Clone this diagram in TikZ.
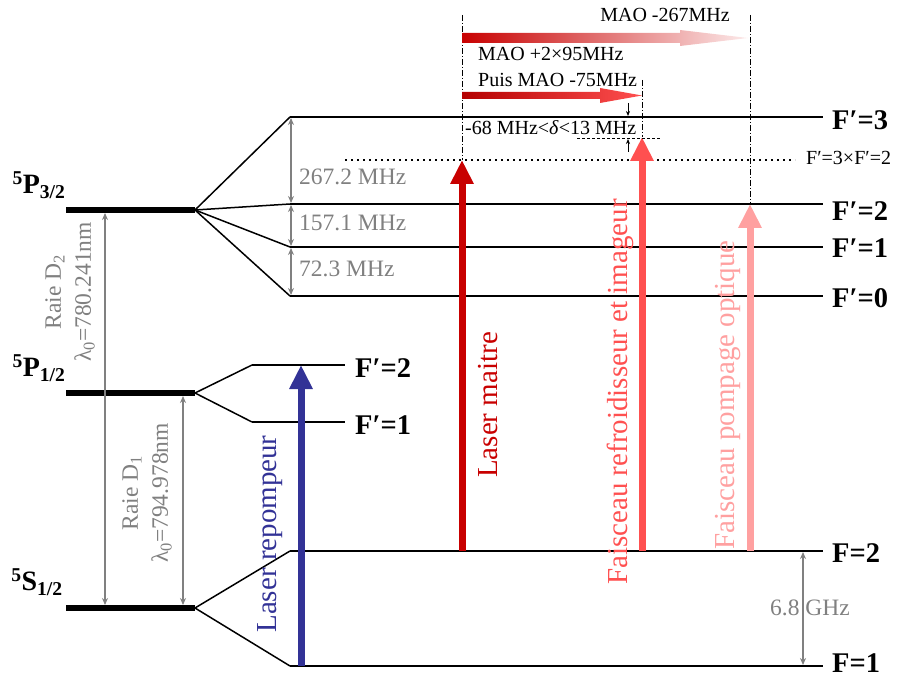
\documentclass[tikz,border=0pt]{standalone}
\usepackage{fontspec}
\setmainfont{Liberation Serif}
\usetikzlibrary{arrows.meta}
\definecolor{gr}{RGB}{128,128,128}
\definecolor{blu}{RGB}{50,50,150}
\definecolor{mred}{RGB}{200,0,0}
\definecolor{cred}{RGB}{255,80,80}
\definecolor{pred}{RGB}{255,160,160}
\definecolor{lpink}{RGB}{252,234,234}
\tikzset{
  lvl/.style={line width=2pt},
  biglvl/.style={line width=6pt},
  fan/.style={line width=1.5pt},
  garrow/.style={draw=gr, line width=1.2pt, {Stealth[length=7pt,width=6pt]}-{Stealth[length=7pt,width=6pt]}},
  glabel/.style={text=gr, font=\fontsize{23.5}{30}\selectfont, inner sep=0pt},
  flabel/.style={font=\bfseries\fontsize{28.5}{30}\selectfont, anchor=west, inner sep=0pt},
  slabel/.style={font=\fontsize{20}{22}\selectfont, inner sep=0pt},
  beam/.style={line width=7pt, -{Triangle[length=24pt,width=22pt]}},
  beamlabel/.style={font=\fontsize{29}{30}\selectfont, rotate=90, inner sep=0pt},
  dashdot/.style={line width=0.6pt, dash pattern=on 6pt off 2pt on 1pt off 2pt},
  smallarrow/.style={line width=0.8pt, -{Stealth[length=5pt,width=4pt]}},
  finelabel/.style={font=\bfseries\fontsize{28}{30}\selectfont, inner sep=0pt}
}
\begin{document}
\begin{tikzpicture}[x=1pt,y=-1pt]
\useasboundingbox (0,0) rectangle (905,679);
% fine structure levels
\coordinate (p32l) at (66,210); \coordinate (p32r) at (195,210);
\coordinate (p12l) at (66,393); \coordinate (p12r) at (195,393);
\coordinate (s12l) at (66,608); \coordinate (s12r) at (195,608);
\draw[biglvl] (p32l) -- (p32r);
\draw[biglvl] (p12l) -- (p12r);
\draw[biglvl] (s12l) -- (s12r);
\node[finelabel] (lp32) at (39,185) {\textsuperscript{5}P\textsubscript{3/2}};
\node[finelabel] (lp12) at (39,368) {\textsuperscript{5}P\textsubscript{1/2}};
\node[finelabel] (ls12) at (37,582) {\textsuperscript{5}S\textsubscript{1/2}};
% hyperfine P3/2
\coordinate (f3l) at (290,117); \coordinate (f3r) at (823,117);
\coordinate (f2l) at (290,204); \coordinate (f2r) at (823,204);
\coordinate (f1l) at (290,247); \coordinate (f1r) at (823,247);
\coordinate (f0l) at (290,296); \coordinate (f0r) at (823,296);
\foreach \n in {f3,f2,f1,f0} {\draw[lvl] (\n l) -- (\n r); \draw[fan] (p32r) -- (\n l);}
\node[flabel] (lf3) at (832,120) {F′=3};
\node[flabel] (lf2) at (832,211) {F′=2};
\node[flabel] (lf1) at (832,248) {F′=1};
\node[flabel] (lf0) at (832,298) {F′=0};
% hyperfine P1/2
\coordinate (g2l) at (252,365); \coordinate (g2r) at (345,365);
\coordinate (g1l) at (252,422); \coordinate (g1r) at (345,422);
\foreach \n in {g2,g1} {\draw[lvl] (\n l) -- (\n r); \draw[fan] (p12r) -- (\n l);}
\node[flabel] (lg2) at (355,368) {F′=2};
\node[flabel] (lg1) at (355,425) {F′=1};
% hyperfine S1/2
\coordinate (h2l) at (290,551); \coordinate (h2r) at (823,551);
\coordinate (h1l) at (290,666); \coordinate (h1r) at (823,666);
\foreach \n in {h2,h1} {\draw[lvl] (\n l) -- (\n r); \draw[fan] (s12r) -- (\n l);}
\node[flabel] (lh2) at (832,553) {F=2};
\node[flabel] (lh1) at (832,663) {F=1};
% gray splittings
\coordinate (a3) at (291,118); \coordinate (a2) at (291,203);
\coordinate (a2b) at (291,205); \coordinate (a1) at (291,246);
\coordinate (a1b) at (291,248); \coordinate (a0) at (291,295);
\draw[garrow] (a3) -- (a2);
\draw[garrow] (a2b) -- (a1);
\draw[garrow] (a1b) -- (a0);
\node[glabel, anchor=west] (t267) at (299,177) {267.2 MHz};
\node[glabel, anchor=west] (t157) at (299,223) {157.1 MHz};
\node[glabel, anchor=west] (t72) at (299,269) {72.3 MHz};
\coordinate (hz2) at (803,552); \coordinate (hz1) at (803,665);
\draw[garrow] (hz2) -- (hz1);
\node[glabel, anchor=west] (t68) at (770,608) {6.8 GHz};
% D lines
\coordinate (d2t) at (105,213); \coordinate (d2b) at (105,605);
\draw[garrow] (d2t) -- (d2b);
\node[glabel, rotate=90, align=center] (td2) at (70,292) {Raie D\textsubscript{2}\\λ\textsubscript{0}=780.241nm};
\coordinate (d1t) at (183,396); \coordinate (d1b) at (183,605);
\draw[garrow] (d1t) -- (d1b);
\node[glabel, rotate=90, align=center] (td1) at (147,493) {Raie D\textsubscript{1}\\λ\textsubscript{0}=794.978nm};
% dotted crossover line
\coordinate (cx1) at (345,160); \coordinate (cx2) at (795,160);
\draw[line width=1.6pt, dash pattern=on 1.6pt off 4.4pt] (cx1) -- (cx2);
\node[slabel, anchor=west] (tcx) at (806,158) {F′=3×F′=2};
% dash-dot guides
\coordinate (v1t) at (462,15); \coordinate (v1b) at (462,160);
\coordinate (v2t) at (642,80); \coordinate (v2b) at (642,137);
\coordinate (v3t) at (750,15); \coordinate (v3b) at (750,204);
\draw[dashdot] (v1t) -- (v1b);
\draw[dashdot] (v2t) -- (v2b);
\draw[dashdot] (v3t) -- (v3b);
% beams
\coordinate (rb) at (301,666); \coordinate (rt) at (301,365);
\draw[beam, blu] (rb) -- (rt);
\node[beamlabel, text=blu] (trep) at (270,534) {Laser repompeur};
\coordinate (mb) at (462,551); \coordinate (mt) at (462,160);
\draw[beam, mred] (mb) -- (mt);
\node[beamlabel, text=mred] (tmai) at (488,405) {Laser maitre};
\coordinate (cb) at (642,551); \coordinate (ct) at (642,137);
\draw[beam, cred] (cb) -- (ct);
\node[beamlabel, text=cred] (tcool) at (620,392) {Faisceau refroidisseur et imageur};
\coordinate (pb) at (750,551); \coordinate (pt) at (750,204);
\draw[beam, pred] (pb) -- (pt);
\node[beamlabel, text=pred] (tpump) at (728,395) {Faisceau pompage optique};
% detuning marks
\coordinate (dl1) at (577,138); \coordinate (dl2) at (660,138);
\draw[line width=0.6pt, dash pattern=on 3pt off 2pt] (dl1) -- (dl2);
\coordinate (s1a) at (628,103); \coordinate (s1b) at (628,116);
\coordinate (s2a) at (628,152); \coordinate (s2b) at (628,139);
\draw[smallarrow] (s1a) -- (s1b);
\draw[smallarrow] (s2a) -- (s2b);
\node[slabel, anchor=west] (tdelta) at (465,128) {-68 MHz<\textit{δ}<13 MHz};
% AOM arrows
\shade[left color=mred, right color=lpink] (462,33) -- (680,33) -- (680,30) -- (748,38) -- (680,46) -- (680,43) -- (462,43) -- cycle;
\shade[left color=mred!90!black, right color=cred] (462,92) -- (600,92) -- (600,88) -- (642,95.5) -- (600,103) -- (600,99) -- (462,99) -- cycle;
\node[slabel] (tmao1) at (665,15) {MAO -267MHz};
\node[slabel, anchor=west] (tmao2) at (478,54) {MAO +2×95MHz};
\node[slabel, anchor=west] (tmao3) at (478,80) {Puis MAO -75MHz};
\end{tikzpicture}
\end{document}
